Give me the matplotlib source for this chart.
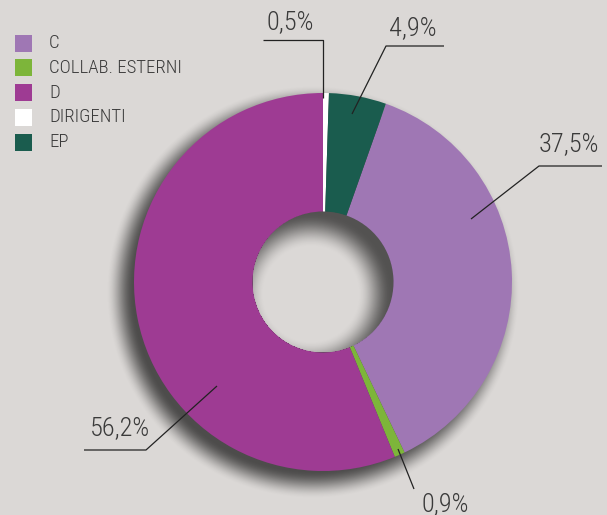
import numpy as np
import matplotlib
matplotlib.use("Agg")
import matplotlib.pyplot as plt
from matplotlib.patches import Rectangle

labels = ["C", "COLLAB. ESTERNI", "D", "DIRIGENTI", "EP"]
values = [37.5, 0.9, 56.2, 0.5, 4.9]
colors = ["#9f77b4", "#7db53a", "#9e3b93", "#ffffff", "#1a5c4e"]

W, H = 607, 515
BG = "#dbd8d6"
TXT = "#3a3a3a"
plt.rcParams["font.family"] = ["Roboto Condensed", "DejaVu Sans"]

cx, cy = 323, 282          # centre in pixels (y down)
R, r = 189, 70.5           # outer / inner radius

fig = plt.figure(figsize=(W / 100, H / 100), dpi=100, facecolor=BG)
ax = fig.add_axes([0, 0, 1, 1])
ax.set_facecolor(BG)

# soft shadows: outside the ring and inside the hole
yy, xx = np.mgrid[0:H, 0:W] + 0.5
d_out = np.hypot(xx - (cx - 10), yy - (cy + 10))
t = np.clip((d_out - (R - 10)) / 28, 0, 1)
a_out = 0.65 * (1 - t * t * (3 - 2 * t))
d_in = np.hypot(xx - (cx - 12), yy - (cy + 12))
t2 = np.clip((d_in - (r - 24)) / 34, 0, 1)
a_in = 0.62 * (t2 * t2 * (3 - 2 * t2))
inside = np.hypot(xx - cx, yy - cy) < r
alpha = np.where(inside, a_in, a_out)
shadow = np.zeros((H, W, 4))
shadow[..., 3] = alpha
ax.imshow(shadow, extent=(0, W, 0, H), origin="upper", zorder=0,
          interpolation="bilinear")

# donut, clockwise, with DIRIGENTI starting at 12 o'clock
start = 90 - 3.6 * (values[3] + values[4])
ax.pie(values, colors=colors, startangle=start, counterclock=False,
       radius=R, center=(cx, H - cy),
       wedgeprops=dict(width=R - r, linewidth=0), frame=False)
for w in ax.patches:
    w.set_zorder(2)

# percent labels with leader lines (pixel coords, y down)
pct = [f"{v:.1f}".replace(".", ",") + "%" for v in values]
leaders = {
    0: ([(471, 219), (539, 166), (602, 166)], (569, 144)),
    1: ([(398, 449), (414, 489)], (445, 504)),
    2: ([(217, 386), (146, 450), (84, 450)], (120, 428)),
    3: ([(323, 98), (323, 40), (263, 40)], (290, 22)),
    4: ([(352, 114), (386, 46), (444, 46)], (413, 28)),
}
for i, (pts, (tx, ty)) in leaders.items():
    px = [p[0] for p in pts]
    py = [H - p[1] for p in pts]
    ax.plot(px, py, color="#222222", lw=0.9, zorder=3,
            solid_capstyle="butt")
    ax.text(tx, H - ty, pct[i], fontsize=19, color=TXT, fontweight="light",
            ha="center", va="center", zorder=4)

# legend
for i, (lab, col) in enumerate(zip(labels, colors)):
    y = 43 + i * 24.8
    ax.add_patch(Rectangle((15, H - y - 8.5), 17, 17, facecolor=col,
                           edgecolor="none", zorder=3))
    ax.text(49, H - y, lab, fontsize=13.5, color=TXT, fontweight="light",
            ha="left", va="center", zorder=4)

ax.set_xlim(0, W)
ax.set_ylim(0, H)
ax.set_aspect("equal")
ax.axis("off")

fig.savefig("out.png", dpi=100, facecolor=BG)
